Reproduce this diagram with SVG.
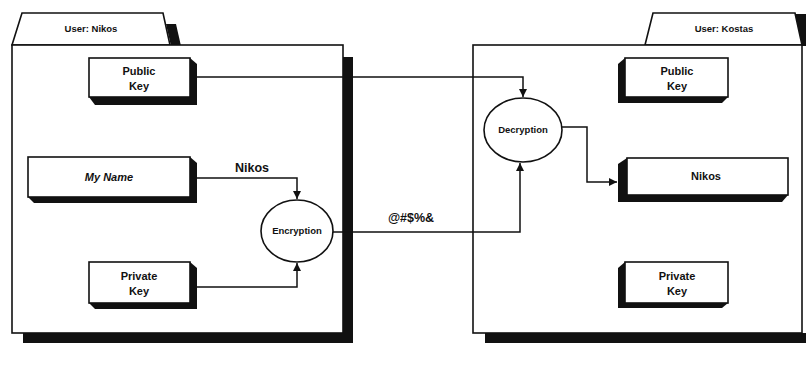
<svg xmlns="http://www.w3.org/2000/svg" width="806" height="369" viewBox="0 0 806 369">
<defs>
<style>
.ln{fill:none;stroke:#111;stroke-width:1.5}
.bx{fill:#fff;stroke:#111;stroke-width:1.6}
.sh{fill:#111}
.t{font-family:"Liberation Sans",Arial,sans-serif;font-weight:bold;fill:#111;text-anchor:middle}
</style>
<marker id="ah" viewBox="0 0 10 10" refX="10" refY="5" markerWidth="8" markerHeight="8" markerUnits="userSpaceOnUse" orient="auto">
<path d="M0,0 L10,5 L0,10 z" fill="#111"/>
</marker>
</defs>
<rect width="806" height="369" fill="#fff"/>

<g id="pkg-nikos">
<polygon class="sh" points="166,24 176,24 181,46 171,46"/>
<rect class="sh" x="343" y="57" width="10" height="286"/>
<rect class="sh" x="23" y="333" width="330" height="10"/>
<path class="bx" d="M12,45 L22,13 L163,13 L170,45 Z"/>
<rect class="bx" x="12" y="45" width="331" height="288"/>
<text class="t" x="91" y="32" font-size="9.5">User: Nikos</text>
</g>

<g id="pkg-kostas">
<polygon class="sh" points="794,14 806,14 806,46 802,46"/>
<rect class="sh" x="485" y="333" width="321" height="10"/>
<path class="bx" d="M645,45 L653,13 L795,13 L802,45 Z"/>
<rect class="bx" x="473" y="45" width="329" height="288"/>
<text class="t" x="724" y="32" font-size="9.5">User: Kostas</text>
</g>

<g id="pubkey-nikos">
<polygon class="sh" points="190,58 197,64 197,105 95,105 89,97"/>
<rect class="bx" x="89" y="58" width="101" height="39"/>
<text class="t" x="139" y="75" font-size="11">Public</text>
<text class="t" x="139" y="90" font-size="11">Key</text>
</g>

<g id="myname">
<polygon class="sh" points="190,157 197,163 197,203 34,203 28,197"/>
<rect class="bx" x="28" y="157" width="162" height="40"/>
<text class="t" x="109" y="181" font-size="11" font-style="italic">My Name</text>
</g>

<g id="privkey-nikos">
<polygon class="sh" points="190,262 197,268 197,309 95,309 89,303"/>
<rect class="bx" x="89" y="262" width="101" height="41"/>
<text class="t" x="139" y="280" font-size="11">Private</text>
<text class="t" x="139" y="295" font-size="11">Key</text>
</g>

<g id="encryption">
<ellipse class="bx" cx="297" cy="231" rx="36" ry="31"/>
<text class="t" x="297" y="234" font-size="9.5">Encryption</text>
</g>

<g id="decryption">
<ellipse class="bx" cx="523" cy="130" rx="39" ry="32"/>
<text class="t" x="523" y="133" font-size="9.5">Decryption</text>
</g>

<g id="pubkey-kostas">
<polygon class="sh" points="625,58 618,64 618,103 722,103 728,97"/>
<rect class="bx" x="625" y="58" width="103" height="39"/>
<text class="t" x="677" y="75" font-size="11">Public</text>
<text class="t" x="677" y="90" font-size="11">Key</text>
</g>

<g id="nikos-kostas">
<polygon class="sh" points="627,158 618,164 618,202 782,202 788,195"/>
<rect class="bx" x="627" y="158" width="161" height="37"/>
<text class="t" x="706" y="180" font-size="11">Nikos</text>
</g>

<g id="privkey-kostas">
<polygon class="sh" points="625,262 618,268 618,308 722,308 728,303"/>
<rect class="bx" x="625" y="262" width="103" height="41"/>
<text class="t" x="677" y="280" font-size="11">Private</text>
<text class="t" x="677" y="295" font-size="11">Key</text>
</g>

<g id="connectors">
<path class="ln" d="M197,77 L523,77 L523,97" marker-end="url(#ah)"/>
<path class="ln" d="M197,178 L297,178 L297,199" marker-end="url(#ah)"/>
<path class="ln" d="M197,287 L297,287 L297,263" marker-end="url(#ah)"/>
<path class="ln" d="M333,232 L520,232 L520,163" marker-end="url(#ah)"/>
<path class="ln" d="M562,127 L587,127 L587,182 L617,182" marker-end="url(#ah)"/>
<text class="t" x="252" y="172" font-size="12.5">Nikos</text>
<text class="t" x="411" y="222" font-size="12.5">@#$%&amp;</text>
</g>
</svg>
